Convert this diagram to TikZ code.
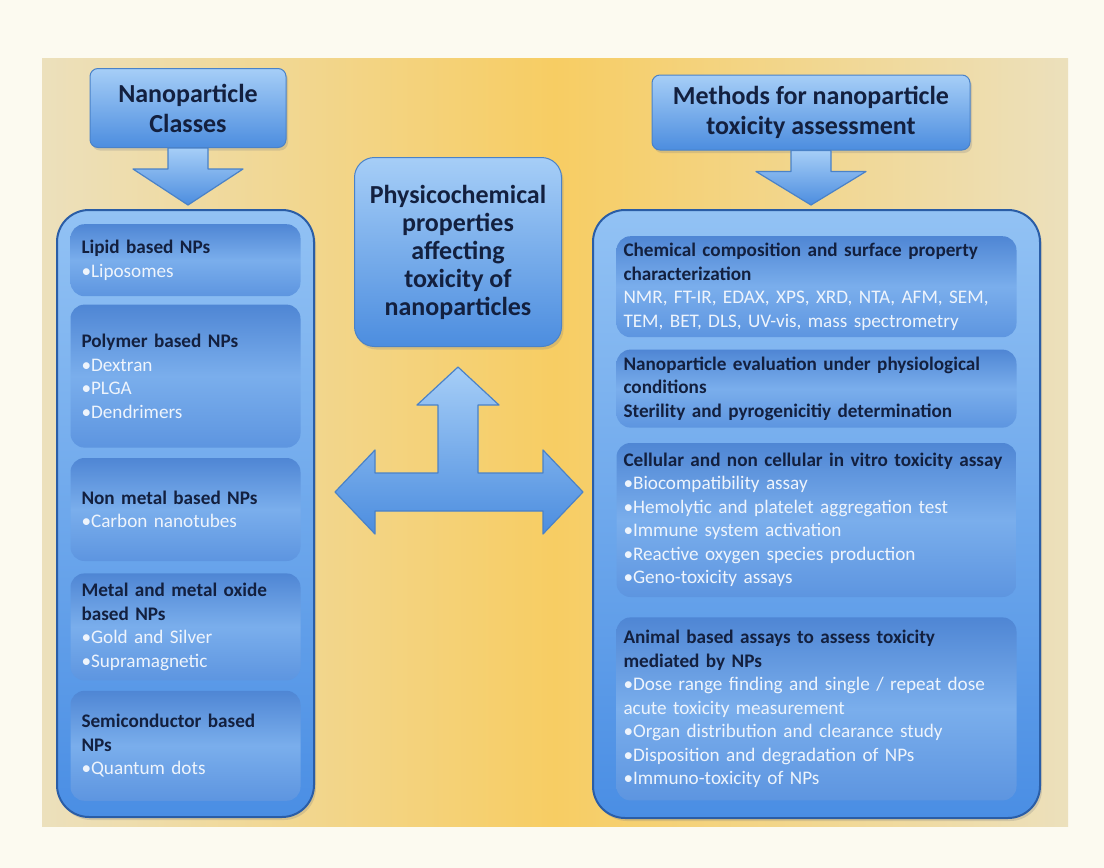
\documentclass[tikz,border=0pt]{standalone}
\usepackage{fontspec}
\setmainfont{Carlito}
\usetikzlibrary{
positioning,
calc,
shadows
}
\definecolor{pagecol}{HTML}{FCFAF0}
\definecolor{panelin}{HTML}{F7CD63}
\definecolor{panelout}{HTML}{ECE0BC}
\definecolor{hdr}{HTML}{13203F}
\definecolor{itemtxt}{HTML}{EEF4FC}
\definecolor{headtop}{HTML}{A6CEF7}
\definecolor{headbot}{HTML}{4C8DDF}
\definecolor{headedge}{HTML}{4A82C8}
\definecolor{bigtop}{HTML}{92C2F4}
\definecolor{bigbot}{HTML}{4A8EE4}
\definecolor{bigedge}{HTML}{2A5DA6}
\definecolor{intop}{HTML}{4F86D4}
\definecolor{inmid}{HTML}{7AAEEC}
\definecolor{inbot}{HTML}{5D95E0}
\newcommand{\hd}[1]{{\color{hdr}\bfseries #1}}
\tikzset{
headbox/.style={
draw=headedge,
line width=1pt,
rounded corners=8pt,
top color=headtop,
bottom color=headbot,
text=hdr,
align=center,
font=\fontsize{26}{30}\selectfont\bfseries,
drop shadow={shadow xshift=2pt, shadow yshift=-3pt, opacity=0.25}
},
bigbox/.style={
draw=bigedge,
line width=2pt,
rounded corners=32pt,
top color=bigtop,
bottom color=bigbot,
drop shadow={shadow xshift=2pt, shadow yshift=-3pt, opacity=0.25}
},
inbox/.style={
rounded corners=14pt,
top color=intop,
bottom color=inbot,
middle color=inmid,
text=itemtxt,
align=left,
font=\fontsize{19.2}{23.5}\selectfont
},
leftin/.style={
inbox,
text width=208pt,
inner xsep=11pt
},
rightin/.style={
inbox,
text width=386pt,
inner xsep=7pt
},
blockarrow/.style={
draw=headedge,
line width=1.2pt,
line join=round,
top color=headtop,
bottom color=headbot
}
}
\begin{document}
\begin{tikzpicture}[x=1pt,y=-1pt]
\useasboundingbox (0,0) rectangle (1104,868);
\fill[pagecol] (0,0) rectangle (1104,868);
\shade[left color=panelout, right color=panelout, middle color=panelin] (42,58) rectangle (1068,826);

% left column
\node[headbox, minimum width=196pt, minimum height=79pt] (classes) at (188,108) {Nanoparticle\\Classes};
\node[bigbox, minimum width=257pt, minimum height=607pt] (leftbox) at (185.5,513.5) {};
\node[leftin, minimum height=72pt, below=15pt of leftbox.north] (lipid) {\hd{Lipid based NPs}\\•Liposomes};
\node[leftin, minimum height=143pt, below=8pt of lipid] (polymer) {\hd{Polymer based NPs}\\•Dextran\\•PLGA\\•Dendrimers};
\node[leftin, minimum height=103pt, below=10pt of polymer] (nonmetal) {\hd{Non metal based NPs}\\•Carbon nanotubes};
\node[leftin, minimum height=107pt, below=12pt of nonmetal] (metal) {\hd{Metal and metal oxide}\\\hd{based NPs}\\•Gold and Silver\\•Supramagnetic};
\node[leftin, minimum height=110pt, below=10pt of metal] (semi) {\hd{Semiconductor based}\\\hd{NPs}\\•Quantum dots};

% right column
\node[headbox, minimum width=318pt, minimum height=75pt] (methods) at (811,112.5) {Methods for nanoparticle\\toxicity assessment};
\node[bigbox, minimum width=447pt, minimum height=608pt] (rightbox) at (816.5,514) {};
\node[rightin, minimum height=101pt, below=27pt of rightbox.north] (chem) {\hd{Chemical composition and surface property}\\\hd{characterization}\\NMR, FT-IR, EDAX, XPS, XRD, NTA, AFM, SEM,\\TEM, BET, DLS, UV-vis, mass spectrometry};
\node[rightin, minimum height=78pt, below=12pt of chem] (physio) {\hd{Nanoparticle evaluation under physiological}\\\hd{conditions}\\\hd{Sterility and pyrogenicitiy determination}};
\node[rightin, minimum height=154pt, below=15pt of physio] (invitro) {\hd{Cellular and non cellular in vitro toxicity assay}\\•Biocompatibility assay\\•Hemolytic and platelet aggregation test\\•Immune system activation\\•Reactive oxygen species production\\•Geno-toxicity assays};
\node[rightin, minimum height=183pt, below=20pt of invitro] (animal) {\hd{Animal based assays to assess toxicity}\\\hd{mediated by NPs}\\•Dose range finding and single / repeat dose\\acute toxicity measurement\\•Organ distribution and clearance study\\•Disposition and degradation of NPs\\•Immuno-toxicity of NPs};

% centre
\node[headbox, rounded corners=20pt, minimum width=207pt, minimum height=189pt, font=\fontsize{26}{28}\selectfont\bfseries] (physico) at (458,252) {Physicochemical\\properties\\affecting\\toxicity of\\nanoparticles};

% block arrows
\foreach \src/\dst in {classes/leftbox, methods/rightbox}
\draw[blockarrow] ($(\src.south)+(-20,0)$) -- ++(0,21) -- ++(-35,0)
-- ($(\src.south |- \dst.north)+(0,-4)$)
-- ($(\src.south)+(55,21)$) -- ++(-35,0) -- ++(0,-21) -- cycle;

\coordinate (hub) at ($(physico.south)+(0,145)$);
\draw[blockarrow] ($(hub)+(0,-125)$) -- ++(41,38) -- ++(-21,0) -- ++(0,68)
-- ++(65,0) -- ++(0,-23) -- ++(40,42) -- ++(-40,42) -- ++(0,-23)
-- ++(-168,0) -- ++(0,23) -- ++(-40,-42) -- ++(40,-42) -- ++(0,23)
-- ++(63,0) -- ++(0,-68) -- ++(-21,0) -- cycle;
\end{tikzpicture}
\end{document}
